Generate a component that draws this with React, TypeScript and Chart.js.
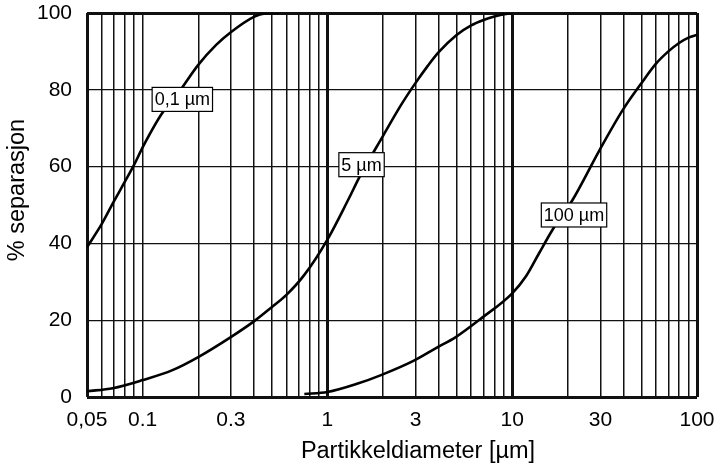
import React, { useEffect, useRef } from 'react';
import { Chart, registerables } from 'chart.js';

Chart.register(...registerables);

// Curve "0,1 µm"
const c01X = [0.05, 0.06, 0.07, 0.08, 0.09, 0.1, 0.128, 0.15, 0.2, 0.25, 0.3, 0.4, 0.46, 0.55];
const c01Y = [39, 45, 51, 56, 60.5, 65, 74, 78, 86.5, 91.7, 95, 99, 99.9, 100];

// Curve "5 µm"
const c5X = [0.05, 0.069, 0.1, 0.145, 0.2, 0.3, 0.4, 0.5, 0.6, 0.75, 1, 1.3, 1.5, 2, 2.5, 3, 3.5, 4, 5, 6, 7, 8, 9, 10];
const c5Y = [1.5, 2.3, 4.4, 7, 10.4, 15.6, 19.7, 23.4, 26.6, 31.8, 41, 51.5, 57.5, 68, 76, 81.8, 86.3, 89.8, 94.3, 96.8, 98.2, 99.1, 99.7, 100];

// Curve "100 µm"
const c100X = [0.75, 1, 1.46, 1.95, 2.92, 3.89, 4.95, 6.85, 10, 11.9, 14, 16.5, 21.2, 29.7, 39.6, 50, 60, 70, 80, 90, 100];
const c100Y = [0.8, 1.3, 3.5, 5.7, 9.4, 12.8, 15.6, 20.6, 27, 31.5, 37.5, 43.5, 51.3, 64.3, 74.7, 81.7, 86.8, 90, 92.2, 93.6, 94.3];

// Axes
const xGridValues = [0.05, 0.06, 0.07, 0.08, 0.09, 0.1, 0.2, 0.3, 0.4, 0.5, 0.6, 0.7, 0.8, 0.9, 1, 2, 3, 4, 5, 6, 7, 8, 9, 10, 20, 30, 40, 50, 60, 70, 80, 90, 100];
const xTickValues = [0.05, 0.1, 0.3, 1, 3, 10, 30, 100];
const xTickLabels = ['0,05', '0.1', '0.3', '1', '3', '10', '30', '100'];
const xThickValues = [0.05, 1, 10, 100];
const yThickValues = [0, 100];

// Curve labels
const boxTexts = ['0,1 µm', '5 µm', '100 µm'];
const boxX = [0.164, 1.53, 21.6];
const boxY = [77.5, 60.5, 47.4];

const xTitle = 'Partikkeldiameter [µm]';
const yTitle = '% separasjon';

const FONT = '"Liberation Sans", Arial, Helvetica, sans-serif';

const same = (a: number, b: number) => Math.abs(a - b) <= Math.abs(b) * 1e-6;

const annotPlugin = {
  id: 'annot',
  afterDatasetsDraw(chart: any) {
    const { ctx, scales } = chart;
    const x = scales.x;
    const y = scales.y;
    ctx.save();
    ctx.font = '18px ' + FONT;
    boxTexts.forEach((t, i) => {
      const px = x.getPixelForValue(boxX[i]);
      const py = y.getPixelForValue(boxY[i]);
      const w = ctx.measureText(t).width + 5;
      const h = 24;
      ctx.fillStyle = '#fff';
      ctx.fillRect(px - w / 2, py - h / 2, w, h);
      ctx.strokeStyle = '#000';
      ctx.lineWidth = 1.2;
      ctx.strokeRect(px - w / 2, py - h / 2, w, h);
      ctx.fillStyle = '#000';
      ctx.textAlign = 'center';
      ctx.textBaseline = 'middle';
      ctx.fillText(t, px, py + 1);
    });
    ctx.restore();
  },
  afterDraw(chart: any) {
    const { ctx, chartArea } = chart;
    ctx.save();
    ctx.fillStyle = '#000';
    ctx.font = '23.5px ' + FONT;
    ctx.textAlign = 'center';
    ctx.textBaseline = 'alphabetic';
    const cx = (chartArea.left + chartArea.right) / 2 + 26;
    ctx.fillText(xTitle, cx, chartArea.bottom + 61);
    const cy = (chartArea.top + chartArea.bottom) / 2 - 15;
    ctx.translate(18, cy);
    ctx.rotate(-Math.PI / 2);
    ctx.textBaseline = 'middle';
    ctx.fillText(yTitle, 0, 0);
    ctx.restore();
  },
};

export default function App() {
  const canvasRef = useRef<HTMLCanvasElement | null>(null);

  useEffect(() => {
    const canvas = canvasRef.current;
    if (!canvas) return;
    const mk = (xs: number[], ys: number[]) => xs.map((v, i) => ({ x: v, y: ys[i] }));
    const lineStyle = {
      borderColor: '#000',
      borderWidth: 2.6,
      pointRadius: 0,
      fill: false,
      cubicInterpolationMode: 'monotone' as const,
    };
    const chart = new Chart(canvas, {
      type: 'line',
      data: {
        datasets: [
          { label: '0,1 µm', data: mk(c01X, c01Y), ...lineStyle },
          { label: '5 µm', data: mk(c5X, c5Y), ...lineStyle },
          { label: '100 µm', data: mk(c100X, c100Y), ...lineStyle },
        ],
      },
      options: {
        responsive: false,
        animation: false,
        devicePixelRatio: 1,
        layout: { padding: { left: 0, top: 13, right: 22, bottom: 0 } },
        plugins: { legend: { display: false }, tooltip: { enabled: false } },
        scales: {
          x: {
            type: 'logarithmic',
            min: 0.05,
            max: 100,
            afterBuildTicks: (scale: any) => {
              scale.ticks = xGridValues.map((v) => ({ value: v }));
            },
            afterFit: (scale: any) => {
              scale.height = 66;
              scale.paddingLeft = 0;
              scale.paddingRight = 0;
            },
            border: { display: false },
            grid: {
              drawTicks: false,
              color: '#111',
              lineWidth: (c: any) => {
                const v = c.tick ? c.tick.value : 0;
                return xThickValues.some((t) => same(v, t)) ? 3 : 1.5;
              },
            },
            ticks: {
              autoSkip: false,
              maxRotation: 0,
              minRotation: 0,
              padding: 11,
              color: '#000',
              font: { family: FONT, size: 21 },
              callback: (value: any) => {
                const v = Number(value);
                const idx = xTickValues.findIndex((t) => same(v, t));
                return idx >= 0 ? xTickLabels[idx] : '';
              },
            },
          },
          y: {
            type: 'linear',
            min: 0,
            max: 100,
            afterFit: (scale: any) => {
              scale.width = 87;
              scale.paddingTop = 0;
              scale.paddingBottom = 0;
            },
            border: { display: false },
            grid: {
              drawTicks: false,
              color: '#111',
              lineWidth: (c: any) => {
                const v = c.tick ? c.tick.value : 0;
                return yThickValues.includes(v) ? 3 : 1.3;
              },
            },
            ticks: {
              stepSize: 20,
              padding: 15,
              color: '#000',
              font: { family: FONT, size: 21 },
            },
          },
        },
      },
      plugins: [annotPlugin],
    });
    return () => chart.destroy();
  }, []);

  return (
    <div style={{ position: 'fixed', left: 0, top: 0, width: 719, height: 463, background: '#fff' }}>
      <canvas ref={canvasRef} width={719} height={463} style={{ display: 'block' }} />
    </div>
  );
}
